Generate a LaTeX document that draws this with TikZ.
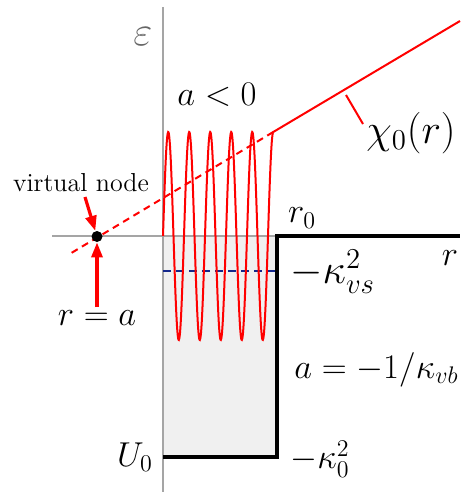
\documentclass[tikz,border=0pt]{standalone}
\usetikzlibrary{arrows.meta}
\definecolor{wellfill}{RGB}{240,240,240}
\definecolor{axisgray}{RGB}{165,165,165}
\definecolor{navyblue}{RGB}{20,40,140}
\begin{document}
\begin{tikzpicture}[x=0.5pt,y=-0.5pt,
  lbl/.style={inner sep=0pt, font=\fontsize{17}{20}\selectfont},
  lblbig/.style={inner sep=0pt, font=\fontsize{19.5}{22}\selectfont},
  txt/.style={inner sep=0pt, font=\fontsize{13}{15}\selectfont},
  redln/.style={red, line width=1pt},
  arr/.style={red, line width=1.6pt, -{Triangle[length=7.5pt,width=5.5pt]}},
  axis/.style={axisgray, line width=0.9pt},
  wall/.style={black, line width=2pt},
]
\useasboundingbox (0,0) rectangle (463,492);
% well region
\fill[wellfill] (163,236) rectangle (277,457);
% axes
\coordinate (hstart) at (52,236);
\coordinate (hend) at (277,236);
\coordinate (vtop) at (163,7);
\coordinate (vbot) at (163,492);
\draw[axis] (hstart) -- (hend);
\draw[axis] (vtop) -- (vbot);
% bound-state level
\coordinate (kvsL) at (163,271);
\coordinate (kvsR) at (277,271);
\draw[navyblue, line width=0.8pt, dash pattern=on 4pt off 2.5pt] (kvsL) -- (kvsR);
% potential
\coordinate (wbl) at (163,457);
\coordinate (wbr) at (277,457);
\coordinate (wtr) at (277,236);
\coordinate (wend) at (460,236);
\draw[wall] (wbl) -- (wbr) -- (wtr) -- (wend);
% wave function
\draw[redln] plot[domain=0:5.25,samples=300] ({163+21*\x},{236-104*sin(360*\x)});
\coordinate (p0) at (273.25,132);
\coordinate (pend) at (460,21);
\coordinate (pdash) at (68,255);
\draw[redln] (p0) -- (pend);
\draw[redln, dash pattern=on 3.5pt off 2.5pt] (p0) -- (pdash);
% virtual node dot
\node[circle, fill=black, inner sep=0pt, minimum size=5.5pt] (dot) at (97,236.5) {};
% labels
\node[lblbig, text=black!60] (eps) at (143,37) {$\varepsilon$};
\node[lbl] (aneg) at (217,95) {$a<0$};
\node[lblbig] (chi) at (411,133) {$\chi_0(r)$};
\node[lbl] (r0) at (302,218) {$r_0$};
\node[lblbig, anchor=west] (kvs) at (290,272) {$-\kappa_{vs}^2$};
\node[lbl] (rax) at (450,258) {$r$};
\node[lbl, font=\fontsize{17.6}{20}\selectfont, anchor=west] (avb) at (294,370) {$a=-1/\kappa_{vb}$};
\node[lbl] (U0) at (135,457) {$U_0$};
\node[lbl, anchor=west] (k0) at (290,459) {$-\kappa_0^2$};
\node[txt] (vn) at (81,183) {virtual node};
\node[lbl] (ra) at (97,318) {$r=a$};
% label tick
\coordinate (tick1) at (346,95);
\coordinate (tick2) at (363,124);
\draw[redln] (tick1) -- (tick2);
% arrows
\coordinate (vnarr) at (85,197);
\coordinate (raarr) at (97,307);
\draw[arr] (vnarr) -- (dot);
\draw[arr] (raarr) -- (dot);
\end{tikzpicture}
\end{document}
